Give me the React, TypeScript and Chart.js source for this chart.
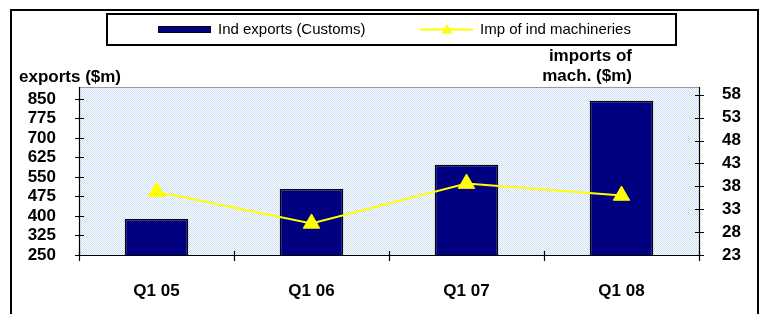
import React, { useEffect, useRef } from "react";
import { Chart, registerables } from "chart.js";

Chart.register(...registerables);

const categories = ["Q1 05", "Q1 06", "Q1 07", "Q1 08"];
const exportsValues = [388, 504, 597, 843];
const machImports = [36.8, 29.9, 38.6, 36.0];
const leftTicks = [250, 325, 400, 475, 550, 625, 700, 775, 850];
const rightTicks = [23, 28, 33, 38, 43, 48, 53, 58];
const exportsLabel = "Ind exports (Customs)";
const importsLabel = "Imp of ind machineries";
const leftTitle = "exports ($m)";
const rightTitle = ["imports of", "mach. ($m)"];

const BAR_COLOR = "#000080";
const LINE_COLOR = "#ffff00";

function makePattern(ctx: CanvasRenderingContext2D) {
  const c = document.createElement("canvas");
  c.width = 2;
  c.height = 2;
  const p = c.getContext("2d")!;
  p.fillStyle = "#ffffff";
  p.fillRect(0, 0, 2, 2);
  p.fillStyle = "#c8dcf3";
  p.fillRect(0, 0, 1, 1);
  p.fillRect(1, 1, 1, 1);
  return ctx.createPattern(c, "repeat");
}

const decorPlugin = {
  id: "decor",
  beforeDraw(chart: any) {
    const { ctx, chartArea: a } = chart;
    ctx.save();
    ctx.fillStyle = "#ffffff";
    ctx.fillRect(0, 0, chart.width, chart.height);
    const pat = makePattern(ctx);
    ctx.fillStyle = pat || "#e2edf9";
    ctx.fillRect(a.left, a.top, a.right - a.left, a.bottom - a.top);
    ctx.restore();
  },
  afterDatasetsDraw(chart: any) {
    const { ctx, chartArea: a, scales } = chart;
    ctx.save();
    // plot area top border
    ctx.strokeStyle = "#9a9a9a";
    ctx.lineWidth = 1;
    ctx.beginPath();
    ctx.moveTo(a.left, a.top + 0.5);
    ctx.lineTo(a.right, a.top + 0.5);
    ctx.stroke();
    // axes
    ctx.strokeStyle = "#000000";
    ctx.lineWidth = 1.2;
    ctx.beginPath();
    ctx.moveTo(a.left + 0.5, a.top);
    ctx.lineTo(a.left + 0.5, a.bottom);
    ctx.moveTo(a.right + 0.5, a.top);
    ctx.lineTo(a.right + 0.5, a.bottom);
    ctx.moveTo(a.left, a.bottom + 0.5);
    ctx.lineTo(a.right + 1, a.bottom + 0.5);
    ctx.stroke();
    // crossing tick marks
    ctx.beginPath();
    leftTicks.forEach((v) => {
      const y = Math.round(scales.y.getPixelForValue(v)) + 0.5;
      ctx.moveTo(a.left - 4, y);
      ctx.lineTo(a.left + 5, y);
    });
    rightTicks.forEach((v) => {
      const y = Math.round(scales.y1.getPixelForValue(v)) + 0.5;
      ctx.moveTo(a.right - 4, y);
      ctx.lineTo(a.right + 5, y);
    });
    const xs = scales.x;
    for (let i = 0; i <= categories.length; i++) {
      let x: number;
      if (i === 0) x = a.left;
      else if (i === categories.length) x = a.right;
      else x = (xs.getPixelForValue(i - 1) + xs.getPixelForValue(i)) / 2;
      x = Math.round(x) + 0.5;
      ctx.moveTo(x, a.bottom - 4);
      ctx.lineTo(x, a.bottom + 6);
    }
    ctx.stroke();
    ctx.restore();
  },
  afterDraw(chart: any) {
    const { ctx } = chart;
    ctx.save();
    // outer border
    ctx.strokeStyle = "#000000";
    ctx.lineWidth = 2;
    ctx.strokeRect(11, 10, 747, 320);
    // legend box
    ctx.strokeRect(107, 14, 569, 31);
    // bar swatch
    ctx.fillStyle = BAR_COLOR;
    ctx.fillRect(158, 26, 53, 7);
    ctx.lineWidth = 1;
    ctx.strokeRect(158.5, 26.5, 52, 6);
    ctx.fillStyle = "#000000";
    ctx.font = "15px 'Liberation Sans', Arial, sans-serif";
    ctx.textBaseline = "middle";
    ctx.textAlign = "left";
    ctx.fillText(exportsLabel, 218, 30);
    // line swatch
    ctx.strokeStyle = LINE_COLOR;
    ctx.lineWidth = 2;
    ctx.beginPath();
    ctx.moveTo(420, 29.5);
    ctx.lineTo(473, 29.5);
    ctx.stroke();
    ctx.fillStyle = LINE_COLOR;
    ctx.beginPath();
    ctx.moveTo(447, 24);
    ctx.lineTo(452.5, 33.5);
    ctx.lineTo(441.5, 33.5);
    ctx.closePath();
    ctx.fill();
    ctx.fillStyle = "#000000";
    ctx.fillText(importsLabel, 480, 30);
    // axis titles
    ctx.font = "bold 17px 'Liberation Sans', Arial, sans-serif";
    ctx.textAlign = "left";
    ctx.fillText(leftTitle, 19, 77);
    ctx.textAlign = "right";
    ctx.fillText(rightTitle[0], 632, 56);
    ctx.fillText(rightTitle[1], 632, 76);
    ctx.restore();
  },
};

export default function App() {
  const ref = useRef<HTMLCanvasElement | null>(null);
  useEffect(() => {
    if (!ref.current) return;
    const tickFont = { family: "'Liberation Sans', Arial, sans-serif", size: 17, weight: "bold" as const };
    const chart = new Chart(ref.current, {
      type: "bar",
      data: {
        labels: categories,
        datasets: [
          {
            type: "line" as const,
            label: importsLabel,
            data: machImports,
            yAxisID: "y1",
            borderColor: LINE_COLOR,
            backgroundColor: LINE_COLOR,
            borderWidth: 2,
            pointStyle: "triangle",
            pointRadius: 9.5,
            pointBorderWidth: 1,
            pointBackgroundColor: LINE_COLOR,
            pointBorderColor: LINE_COLOR,
            tension: 0,
            order: 0,
          },
          {
            type: "bar" as const,
            label: exportsLabel,
            data: exportsValues,
            yAxisID: "y",
            backgroundColor: BAR_COLOR,
            borderColor: "#000000",
            borderWidth: 1.5,
            borderSkipped: false,
            categoryPercentage: 1,
            barPercentage: 0.41,
            order: 1,
          },
        ],
      },
      options: {
        responsive: false,
        animation: false,
        layout: { padding: { top: 87, left: 0, right: 0, bottom: 0 } },
        plugins: { legend: { display: false }, tooltip: { enabled: false } },
        scales: {
          x: {
            offset: true,
            grid: { display: false, drawTicks: false },
            border: { display: false },
            ticks: { font: tickFont, color: "#000000", padding: 26 },
            afterFit: (s: any) => {
              s.height = 59;
            },
          },
          y: {
            position: "left",
            min: 250,
            max: 896,
            grid: { display: false, drawTicks: false },
            border: { display: false },
            ticks: { font: tickFont, color: "#000000", padding: 23, autoSkip: false },
            afterBuildTicks: (s: any) => {
              s.ticks = leftTicks.map((v) => ({ value: v }));
            },
            afterFit: (s: any) => {
              s.width = 79;
            },
          },
          y1: {
            position: "right",
            min: 23,
            max: 59.7,
            grid: { display: false, drawTicks: false },
            border: { display: false },
            ticks: { font: tickFont, color: "#000000", padding: 23, autoSkip: false },
            afterBuildTicks: (s: any) => {
              s.ticks = rightTicks.map((v) => ({ value: v }));
            },
            afterFit: (s: any) => {
              s.width = 61;
            },
          },
        },
      },
      plugins: [decorPlugin],
    } as any);
    return () => chart.destroy();
  }, []);
  return (
    <div style={{ position: "fixed", left: 0, top: 0, width: 760, height: 314, background: "#fff" }}>
      <canvas ref={ref} width={760} height={314} style={{ display: "block", width: 760, height: 314 }} />
    </div>
  );
}
